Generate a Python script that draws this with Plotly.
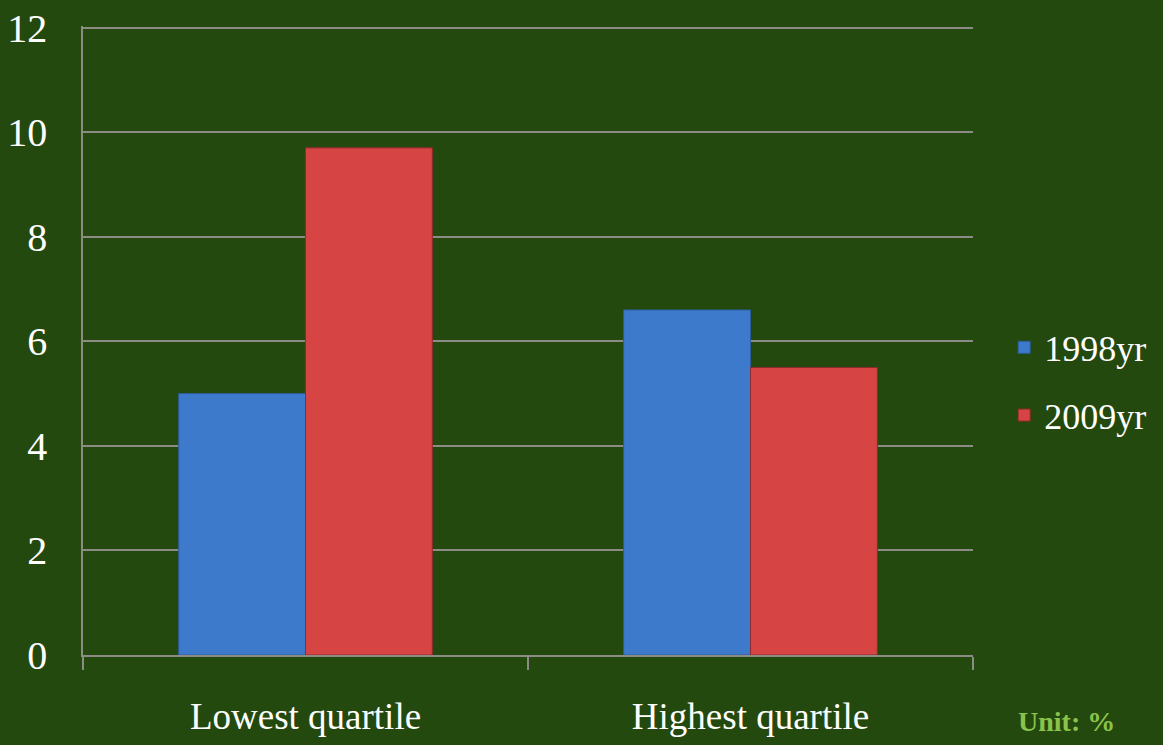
import plotly.graph_objects as go

categories = ["Lowest quartile", "Highest quartile"]
series_names = ["1998yr", "2009yr"]
values_1998 = [5.0, 6.6]
values_2009 = [9.7, 5.5]
y_ticks = [0, 2, 4, 6, 8, 10, 12]

BG = "#24490f"
GRID = "#8c8c84"
FONT = "Liberation Serif"

fig = go.Figure()
fig.add_trace(go.Bar(
    x=categories, y=values_1998, name=series_names[0],
    marker=dict(color="#3d7acb", line=dict(color="#2d5c9a", width=1)),
    legendgroup="a",
))
fig.add_trace(go.Bar(
    x=categories, y=values_2009, name=series_names[1],
    marker=dict(color="#d64444", line=dict(color="#8f2a2a", width=1)),
    legendgroup="b",
))

fig.update_layout(
    width=1163, height=745,
    paper_bgcolor=BG, plot_bgcolor=BG,
    margin=dict(l=83, r=190, t=26, b=90, autoexpand=False),
    barmode="group", bargap=0.43, bargroupgap=0,
    font=dict(family=FONT, color="white", size=34),
    showlegend=True,
    legend=dict(
        x=1.035, y=0.435, xanchor="left", yanchor="middle",
        font=dict(family=FONT, size=36, color="white"),
        bgcolor="rgba(0,0,0,0)", tracegroupgap=18,
        traceorder="grouped",
    ),
    xaxis=dict(
        automargin=False,
        showgrid=False, showline=True, linecolor=GRID, linewidth=2,
        ticks="outside", tickson="boundaries", ticklen=13, tickcolor=GRID, tickwidth=1.5,
        tickfont=dict(family=FONT, size=37, color="white"),
        ticklabelstandoff=28,
    ),
    yaxis=dict(
        automargin=False,
        range=[0, 12.03], tickvals=y_ticks, showgrid=True, gridcolor=GRID, gridwidth=1.5,
        showline=True, linecolor=GRID, linewidth=1.5, zeroline=False,
        tickfont=dict(family=FONT, size=40, color="white"),
        ticklabelstandoff=26,
    ),
    annotations=[dict(
        text="<b>Unit: %</b>", xref="paper", yref="paper",
        x=1.105, y=-0.105, xanchor="center", yanchor="middle", showarrow=False,
        font=dict(family=FONT, size=28, color="#8bc34a"),
    )],
)

fig.write_html("out.html")
